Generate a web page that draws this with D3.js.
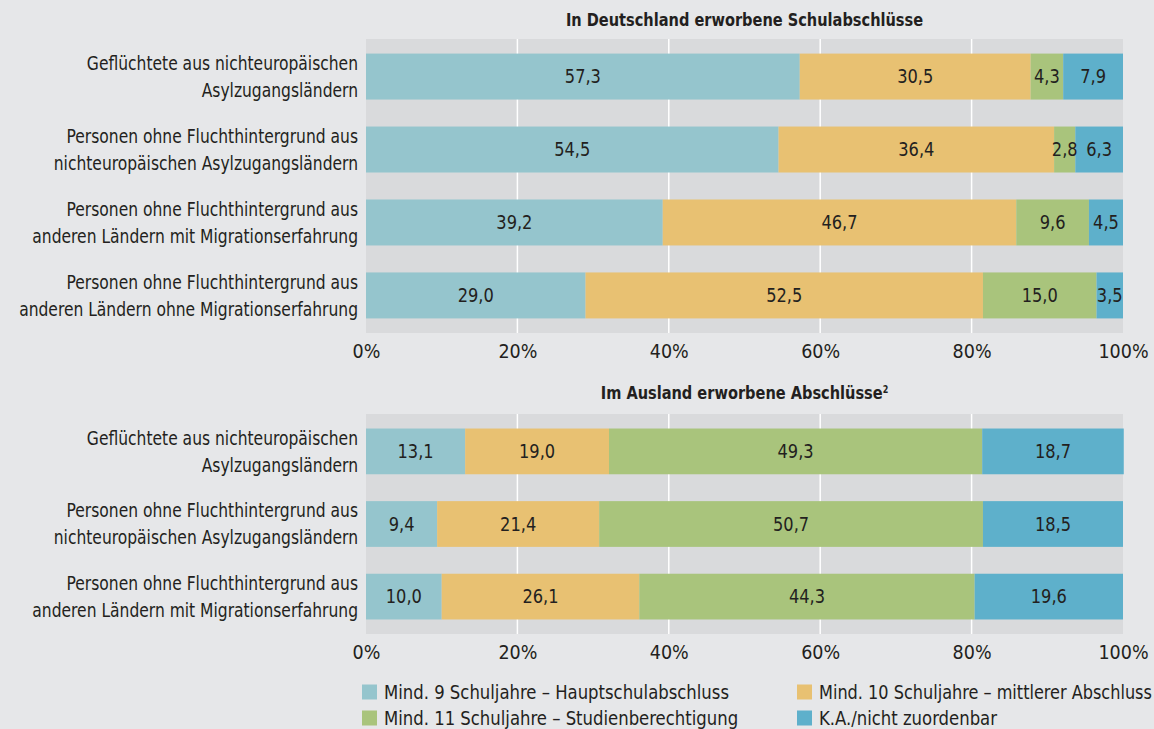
<!DOCTYPE html>
<html>
<head>
<meta charset="utf-8">
<script src="https://cdn.jsdelivr.net/npm/d3@7/dist/d3.min.js"></script>
<style>
  html, body { margin: 0; padding: 0; background: #e6e7e9; }
  svg { display: block; }
  text { font-family: "DejaVu Sans Condensed", "DejaVu Sans", sans-serif; fill: #231f20; }
</style>
</head>
<body>
<svg id="chart" width="1154" height="729"></svg>
<script>
// ---- Data ----
const seriesNames = [
  "Mind. 9 Schuljahre – Hauptschulabschluss",
  "Mind. 10 Schuljahre – mittlerer Abschluss",
  "Mind. 11 Schuljahre – Studienberechtigung",
  "K.A./nicht zuordenbar"
];
const seriesKeys = ["haupt", "mittel", "studien", "ka"];
const seriesColors = ["#95c5cd", "#e8c172", "#a9c47c", "#5eb0cb"];

const topTitle = "In Deutschland erworbene Schulabschlüsse";
const topCategories = [
  ["Geflüchtete aus nichteuropäischen", "Asylzugangsländern"],
  ["Personen ohne Fluchthintergrund aus", "nichteuropäischen Asylzugangsländern"],
  ["Personen ohne Fluchthintergrund aus", "anderen Ländern mit Migrationserfahrung"],
  ["Personen ohne Fluchthintergrund aus", "anderen Ländern ohne Migrationserfahrung"]
];
const topHaupt   = [57.3, 54.5, 39.2, 29.0];
const topMittel  = [30.5, 36.4, 46.7, 52.5];
const topStudien = [4.3, 2.8, 9.6, 15.0];
const topKA      = [7.9, 6.3, 4.5, 3.5];

const bottomTitle = "Im Ausland erworbene Abschlüsse";
const bottomTitleSup = "2";
const bottomCategories = [
  ["Geflüchtete aus nichteuropäischen", "Asylzugangsländern"],
  ["Personen ohne Fluchthintergrund aus", "nichteuropäischen Asylzugangsländern"],
  ["Personen ohne Fluchthintergrund aus", "anderen Ländern mit Migrationserfahrung"]
];
const bottomHaupt   = [13.1, 9.4, 10.0];
const bottomMittel  = [19.0, 21.4, 26.1];
const bottomStudien = [49.3, 50.7, 44.3];
const bottomKA      = [18.7, 18.5, 19.6];

const tickValues = [0, 20, 40, 60, 80, 100];
const tickLabels = ["0%", "20%", "40%", "60%", "80%", "100%"];

// ---- Drawing ----
const svg = d3.select("#chart");
const fmt = v => d3.format(".1f")(v).replace(".", ",");

const x = d3.scaleLinear().domain([0, 100]).range([366, 1123]);

function panel(cfg) {
  const rows = cfg.categories.map((c, i) => {
    const o = { idx: i };
    seriesKeys.forEach((k, j) => o[k] = cfg.values[j][i]);
    return o;
  });
  const plotTop = cfg.top, plotBottom = cfg.bottom;
  const y = d3.scaleBand()
    .domain(rows.map(r => r.idx))
    .range([plotTop, plotBottom])
    .paddingInner(0.37)
    .paddingOuter(0.2);

  const g = svg.append("g");
  g.append("rect")
    .attr("x", x(0)).attr("y", plotTop)
    .attr("width", x(100) - x(0)).attr("height", plotBottom - plotTop)
    .attr("fill", "#d9dadc");
  g.selectAll(".grid").data(tickValues.filter(t => t > 0 && t < 100)).join("line")
    .attr("x1", d => x(d)).attr("x2", d => x(d))
    .attr("y1", plotTop).attr("y2", plotBottom)
    .attr("stroke", "#ffffff").attr("stroke-width", 1.5);

  const stacked = d3.stack().keys(seriesKeys)(rows);
  const layers = g.selectAll(".layer").data(stacked).join("g")
    .attr("fill", (d, i) => seriesColors[i]);
  layers.selectAll("rect").data(d => d).join("rect")
    .attr("x", d => x(d[0]))
    .attr("y", d => y(d.data.idx))
    .attr("width", d => x(d[1]) - x(d[0]))
    .attr("height", y.bandwidth());

  stacked.forEach(layer => {
    g.selectAll(null).data(layer).join("text")
      .attr("transform", d => `translate(${(x(d[0]) + x(d[1])) / 2},${y(d.data.idx) + y.bandwidth() / 2}) scale(0.95,1)`)
      .attr("dy", "0.35em")
      .attr("text-anchor", "middle")
      .attr("font-size", 19)
      .text(d => fmt(d[1] - d[0]));
  });

  const cat = g.selectAll(".cat").data(rows).join("text")
    .attr("text-anchor", "end")
    .attr("font-size", 19.5)
    .attr("transform", d => `translate(358,${y(d.idx) + y.bandwidth() / 2}) scale(0.885,1)`);
  cat.each(function(d) {
    const lines = cfg.categories[d.idx];
    d3.select(this).selectAll("tspan").data(lines).join("tspan")
      .attr("x", 0)
      .attr("dy", (l, i) => i === 0 ? "-0.35em" : "1.4em")
      .text(l => l);
  });

  const axis = d3.axisBottom(x).tickValues(tickValues)
    .tickFormat((d, i) => tickLabels[i]).tickSize(0).tickPadding(0);
  const ax = g.append("g").attr("transform", `translate(0,${plotBottom})`).call(axis);
  ax.select(".domain").remove();
  ax.selectAll("text")
    .attr("font-family", '"DejaVu Sans Condensed", "DejaVu Sans", sans-serif')
    .attr("font-size", 19.5)
    .attr("fill", "#231f20")
    .attr("y", cfg.tickY - plotBottom)
    .attr("dy", "0.35em");

  const t = g.append("text")
    .attr("transform", `translate(${(x(0) + x(100)) / 2},${cfg.titleY}) scale(0.9,1)`)
    .attr("dy", "0.35em")
    .attr("text-anchor", "middle")
    .attr("font-weight", "bold")
    .attr("font-size", 18)
    .text(cfg.title);
  if (cfg.sup) {
    t.append("tspan").attr("font-size", 10).attr("dy", "-0.6em").text(cfg.sup);
  }
}

panel({
  categories: topCategories,
  values: [topHaupt, topMittel, topStudien, topKA],
  top: 39, bottom: 333, tickY: 351, titleY: 20, title: topTitle
});
panel({
  categories: bottomCategories,
  values: [bottomHaupt, bottomMittel, bottomStudien, bottomKA],
  top: 414, bottom: 634, tickY: 652, titleY: 393, title: bottomTitle, sup: bottomTitleSup
});

const legendPos = [[362, 692], [797, 692], [362, 718], [797, 718]];
const leg = svg.append("g").selectAll("g").data(seriesNames).join("g")
  .attr("transform", (d, i) => `translate(${legendPos[i][0]},${legendPos[i][1]})`);
leg.append("rect").attr("x", 0).attr("y", -7.5).attr("width", 15).attr("height", 15)
  .attr("fill", (d, i) => seriesColors[i]);
leg.append("text").attr("dy", "0.35em")
  .attr("font-size", 19.5).text(d => d)
  .each(function(d, i) {
    const len = this.getComputedTextLength();
    const avail = 1152 - (legendPos[i][0] + 22);
    const s = Math.min(0.94, avail / len);
    d3.select(this).attr("transform", `translate(22,0) scale(${s},1)`);
  });
</script>
</body>
</html>
